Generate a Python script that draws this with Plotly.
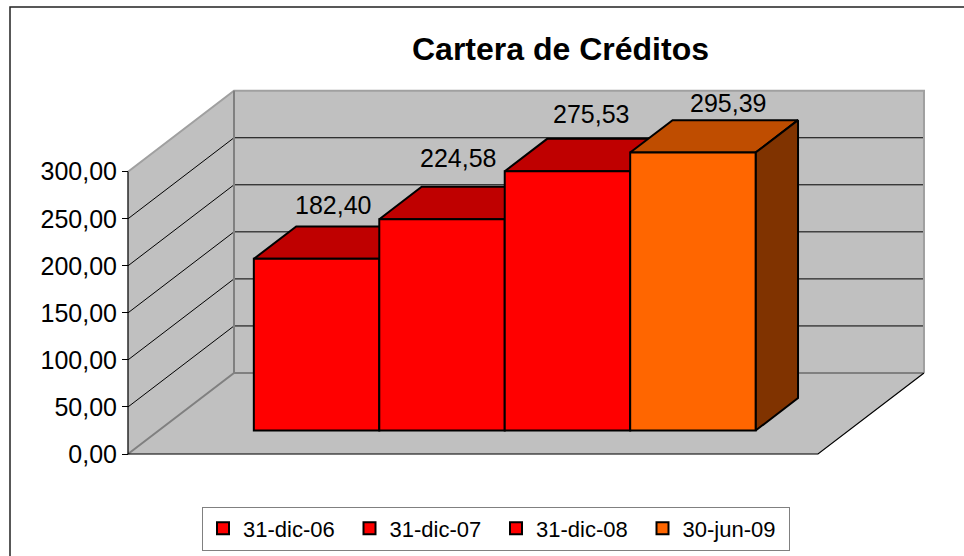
import plotly.graph_objects as go

# ---- data ----
series_names = ["31-dic-06", "31-dic-07", "31-dic-08", "30-jun-09"]
series_values = [182.40, 224.58, 275.53, 295.39]
value_labels = ["182,40", "224,58", "275,53", "295,39"]
front_colors = ["#FF0000", "#FF0000", "#FF0000", "#FF6600"]
top_colors = ["#BF0000", "#BF0000", "#BF0000", "#BF4D00"]
side_colors = ["#800000", "#800000", "#800000", "#803300"]
axis_ticks = [0, 50, 100, 150, 200, 250, 300]
axis_tick_labels = ["0,00", "50,00", "100,00", "150,00", "200,00", "250,00", "300,00"]

# ---- oblique 3-D projection, in data units ----
W, H = 964, 556
PX_PER_BAR = 125.45      # one bar width on screen
PX_PER_VALUE = 0.941     # one value unit on screen
ORIGIN_X, ORIGIN_Y = 128, 454
DEPTH_DX = 106 / PX_PER_BAR       # floor depth shift, bar widths
DEPTH_DY = 81 / PX_PER_VALUE      # floor depth shift, value units
GAP = 0.758              # bar widths before the cluster
FLOOR_WIDTH = 1.5 + len(series_values)
D0, D1 = 0.29, 0.69      # depth range occupied by bars
AXIS_TOP = axis_ticks[-1]

x_range = [-ORIGIN_X / PX_PER_BAR, (W - ORIGIN_X) / PX_PER_BAR]
y_range = [(ORIGIN_Y - H) / PX_PER_VALUE, ORIGIN_Y / PX_PER_VALUE]


def proj(x, v, d):
    return x + d * DEPTH_DX, v + d * DEPTH_DY


def poly(points, fill, line_color, line_width, close=True):
    pts = [proj(*p) for p in points]
    if close:
        pts.append(pts[0])
    return go.Scatter(
        x=[p[0] for p in pts], y=[p[1] for p in pts], mode="lines",
        fill="toself" if fill else "none", fillcolor=fill,
        line=dict(color=line_color, width=line_width),
        showlegend=False, hoverinfo="skip", xaxis="x", yaxis="y",
    )


fig = go.Figure()
WALL = "#C0C0C0"
EDGE = "#808080"

# walls and floor
fig.add_trace(poly([(0, 0, 0), (0, AXIS_TOP, 0), (0, AXIS_TOP, 1), (0, 0, 1)], WALL, WALL, 0.5))
fig.add_trace(poly([(0, 0, 1), (0, AXIS_TOP, 1), (FLOOR_WIDTH, AXIS_TOP, 1), (FLOOR_WIDTH, 0, 1)], WALL, WALL, 0.5))
fig.add_trace(poly([(0, 0, 0), (0, 0, 1), (FLOOR_WIDTH, 0, 1), (FLOOR_WIDTH, 0, 0)], WALL, WALL, 0.5))

# gridlines
for t in axis_ticks[1:-1]:
    fig.add_trace(poly([(0, t, 0), (0, t, 1), (FLOOR_WIDTH, t, 1)], None, "#000000", 1, close=False))

# grey wall edges
fig.add_trace(poly([(0, 0, 0), (0, 0, 1), (FLOOR_WIDTH, 0, 1)], None, EDGE, 2, close=False))
fig.add_trace(poly([(0, AXIS_TOP, 0), (0, AXIS_TOP, 1), (FLOOR_WIDTH, AXIS_TOP, 1), (FLOOR_WIDTH, 0, 1)], None, "#A0A0A0", 2, close=False))
fig.add_trace(poly([(0, 0, 1), (0, AXIS_TOP, 1)], None, EDGE, 2, close=False))

# black front edges of the floor and the value axis line
fig.add_trace(poly([(0, AXIS_TOP, 0), (0, 0, 0), (FLOOR_WIDTH, 0, 0), (FLOOR_WIDTH, 0, 1)], None, "#000000", 1.2, close=False))

# top faces, left to right, and the side of the last bar
n = len(series_values)
for i, v in enumerate(series_values):
    x0, x1 = GAP + i, GAP + i + 1
    fig.add_trace(poly([(x0, v, D0), (x0, v, D1), (x1, v, D1), (x1, v, D0)], top_colors[i], "#000000", 2))
xr = GAP + n
v_last = series_values[-1]
fig.add_trace(poly([(xr, 0, D0), (xr, v_last, D0), (xr, v_last, D1), (xr, 0, D1)], side_colors[-1], "#000000", 2))

# front faces: real bars on an overlaying pair of axes so they cover the tops behind
base_value = proj(0, 0, D0)[1]
for i, v in enumerate(series_values):
    cx = proj(GAP + i + 0.5, 0, D0)[0]
    fig.add_trace(go.Bar(
        x=[cx], y=[v], base=[base_value], width=[1], name=series_names[i],
        marker=dict(color=front_colors[i], line=dict(color="#000000", width=2)),
        xaxis="x2", yaxis="y2", hoverinfo="skip",
    ))

# data labels
label_dx = [16, 16, 24, 35]
label_dy = [54, 61, 57, 50]
annotations = []
for i, v in enumerate(series_values):
    cx = proj(GAP + i + 0.5, 0, D0)[0]
    annotations.append(dict(
        x=cx, y=v + base_value, xref="x2", yref="y2", text=value_labels[i],
        showarrow=False, xanchor="center", yanchor="middle",
        xshift=label_dx[i], yshift=label_dy[i],
        font=dict(family="Liberation Sans", size=25, color="#000000"),
    ))

axis_font = dict(family="Liberation Sans", size=25, color="#000000")
fig.update_layout(
    width=W, height=H, autosize=False,
    margin=dict(l=0, r=0, t=0, b=0),
    paper_bgcolor="#FFFFFF", plot_bgcolor="rgba(0,0,0,0)",
    barmode="overlay",
    font=axis_font,
    title=dict(
        text="<b>Cartera de Créditos</b>", x=560.5 / W, y=1 - 49 / H,
        xanchor="center", yanchor="middle",
        font=dict(family="Liberation Sans", size=32, color="#000000"),
    ),
    xaxis=dict(domain=[0, 1], range=x_range, visible=False, fixedrange=True),
    yaxis=dict(
        domain=[0, 1], range=y_range, fixedrange=True, anchor="free", position=ORIGIN_X / W,
        tickmode="array", tickvals=axis_ticks, ticktext=axis_tick_labels,
        ticks="outside", ticklen=6, tickwidth=1, tickcolor="#000000",
        showgrid=False, zeroline=False, showline=False, tickfont=axis_font,
    ),
    xaxis2=dict(overlaying="x", range=x_range, visible=False, fixedrange=True),
    yaxis2=dict(overlaying="y", range=y_range, visible=False, fixedrange=True),
    legend=dict(
        orientation="h", x=202 / W, y=1 - 506.5 / H, xanchor="left", yanchor="top",
        bgcolor="#FFFFFF", bordercolor="#808080", borderwidth=1,
        font=dict(family="Liberation Sans", size=22, color="#000000"),
        entrywidth=101.5, entrywidthmode="pixels", itemclick=False, itemdoubleclick=False,
        traceorder="normal",
    ),
    shapes=[dict(
        type="rect", xref="paper", yref="paper", x0=10 / W, x1=980 / W, y0=-20 / H, y1=1 - 7 / H,
        line=dict(color="#222222", width=1.5), fillcolor="rgba(0,0,0,0)", layer="below",
    )],
    annotations=annotations,
)
fig.write_html(
    "out.html",
    config={"displayModeBar": False},
    post_script="document.body.style.margin='0';document.documentElement.style.overflow='hidden';",
)
